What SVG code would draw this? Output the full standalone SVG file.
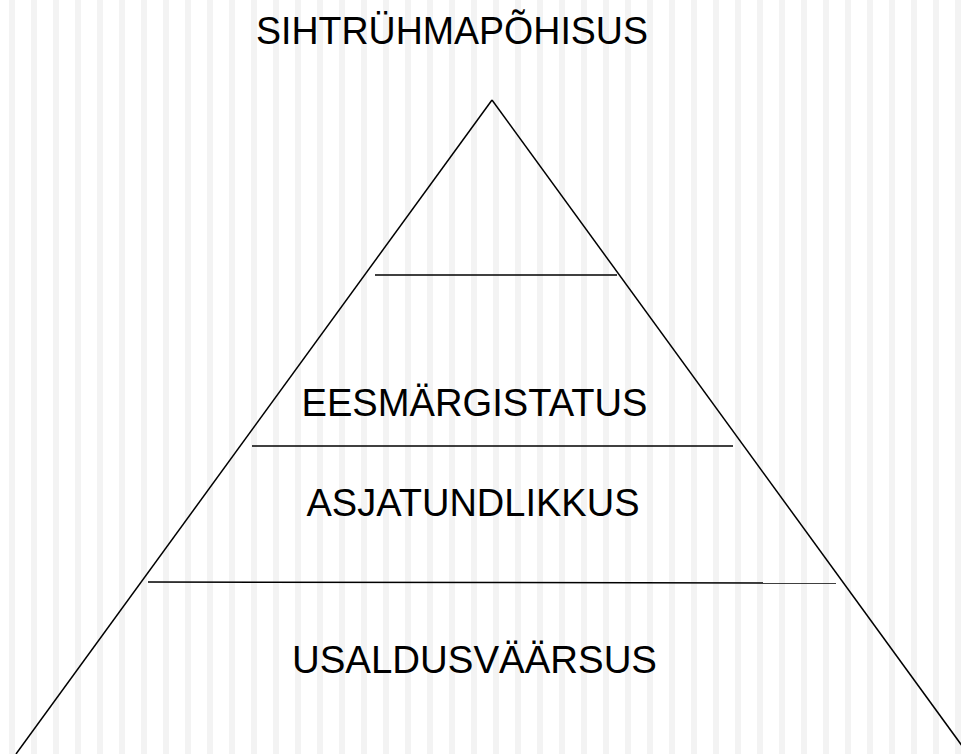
<svg xmlns="http://www.w3.org/2000/svg" width="961" height="754" viewBox="0 0 961 754">
<style>
.t{font-family:"Liberation Sans",Arial,sans-serif;font-size:38px;fill:#000;text-anchor:middle}
.ln{stroke:#000;stroke-width:1.5;fill:none}
</style>
<defs>
<pattern id="stripes" patternUnits="userSpaceOnUse" x="0" y="0" width="22" height="754">
<rect x="9" y="0" width="6" height="754" fill="#f3f3f3"/>
</pattern>
</defs>
<rect width="961" height="754" fill="#fff"/>
<rect width="961" height="754" fill="url(#stripes)"/>
<g id="pyramid">
<line class="ln" x1="492" y1="100" x2="16" y2="754"/>
<line class="ln" x1="492" y1="100" x2="968" y2="754"/>
</g>
<g id="dividers">
<line class="ln" x1="375" y1="275" x2="617" y2="275"/>
<line class="ln" x1="252" y1="446" x2="733" y2="446"/>
<line class="ln" x1="148" y1="582" x2="836" y2="583"/>
</g>
<g id="title"><text class="t" x="452" y="44" textLength="392" lengthAdjust="spacingAndGlyphs">SIHTRÜHMAPÕHISUS</text></g>
<g id="level3"><text class="t" x="474.5" y="415.5" textLength="346" lengthAdjust="spacingAndGlyphs">EESMÄRGISTATUS</text></g>
<g id="level2"><text class="t" x="473" y="515.5" textLength="333" lengthAdjust="spacingAndGlyphs">ASJATUNDLIKKUS</text></g>
<g id="level1"><text class="t" x="474.5" y="673" textLength="365" lengthAdjust="spacingAndGlyphs">USALDUSVÄÄRSUS</text></g>
</svg>
